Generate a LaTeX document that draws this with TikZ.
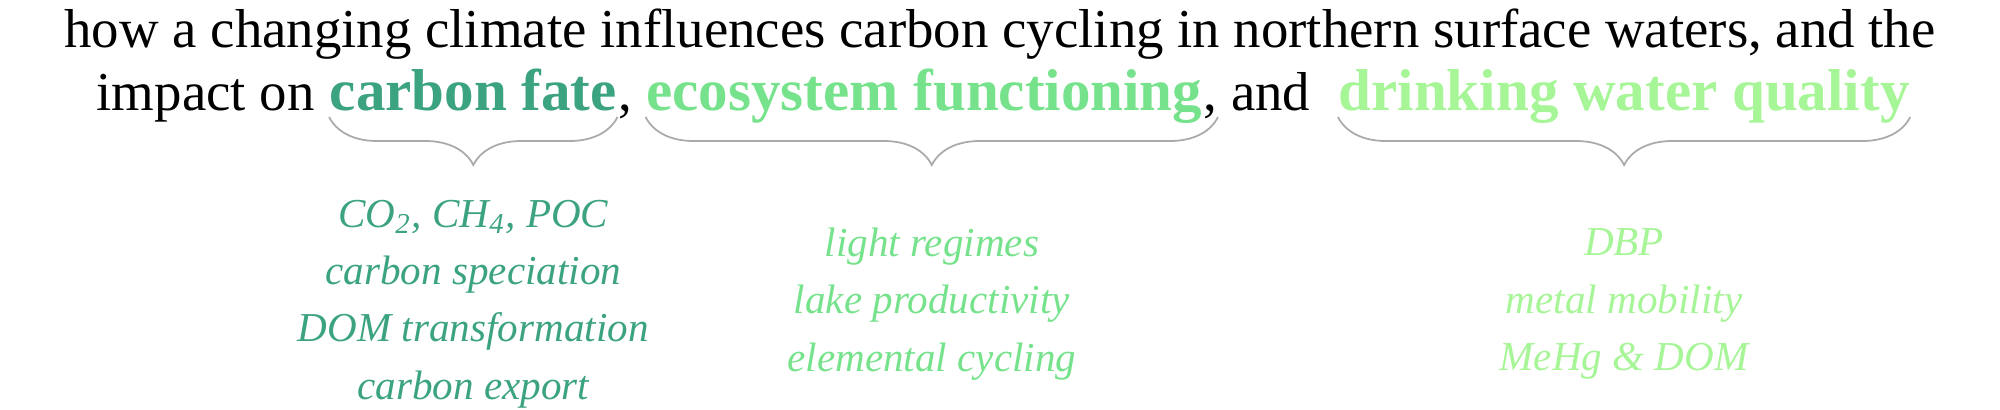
\documentclass[tikz,border=0pt]{standalone}
\usepackage{fontspec}
\setmainfont{Liberation Serif}
\definecolor{fategreen}{RGB}{59, 163, 127}
\definecolor{ecogreen}{RGB}{118, 226, 140}
\definecolor{watergreen}{RGB}{166, 245, 150}
\definecolor{bracegray}{RGB}{170, 170, 170}
\usetikzlibrary{positioning, calc, decorations.pathreplacing}

\begin{document}
\begin{tikzpicture}[
  line/.style={inner sep=0pt, font=\fontsize{15.6}{18}\selectfont},
  word/.style={inner sep=0pt, font=\fontsize{16.8}{19}\selectfont\bfseries},
  curly/.style={draw=bracegray, line width=0.5pt, decorate, decoration={brace, mirror, amplitude=0.48cm}},
  items/.style={inner sep=0pt, align=center, font=\fontsize{11.7}{16.3}\selectfont\itshape}
]
  \useasboundingbox (0,0) rectangle (20,-4.09);
  \node[line, anchor=base] (first) at (10,-0.47) {how a changing climate influences carbon cycling in northern surface waters, and the};
  \node[line, anchor=base west] (impact) at (0.96,-1.10) {impact on};
  \node[word, text=fategreen, right=0.14cm of impact.base east, anchor=base west] (fate) {carbon fate};
  \node[line, right=0pt of fate.base east, anchor=base west] (comma1) {,};
  \node[word, text=ecogreen, right=0.13cm of comma1.base east, anchor=base west] (eco) {ecosystem functioning};
  \node[line, right=0pt of eco.base east, anchor=base west] (comma2) {, and};
  \node[word, text=watergreen, right=0.27cm of comma2.base east, anchor=base west] (water) {drinking water quality};

  \draw[curly] ($(fate.base west)+(0,-0.07)$) -- ($(fate.base east)+(0,-0.07)$);
  \draw[curly] ($(eco.base west)+(0,-0.07)$) -- ($(eco.base east)+(0.15,-0.07)$);
  \draw[curly] ($(water.base west)+(0,-0.07)$) -- ($(water.base east)+(0,-0.07)$);
  \coordinate (fatetip) at ($(fate.base)+(0,-0.56)$);
  \coordinate (ecotip) at ($(eco.base)+(0.075,-0.56)$);
  \coordinate (watertip) at ($(water.base)+(0,-0.56)$);

  \node[items, text=fategreen, below=1.38cm of fatetip, anchor=center] (fateitems) {
    CO\textsubscript{2}, CH\textsubscript{4}, POC\\
    carbon speciation\\
    DOM transformation\\
    carbon export
  };
  \node[items, text=ecogreen, below=1.38cm of ecotip, anchor=center] (ecoitems) {
    light regimes\\
    lake productivity\\
    elemental cycling
  };
  \node[items, text=watergreen, below=1.38cm of watertip, anchor=center] (wateritems) {
    DBP\\
    metal mobility\\
    MeHg \& DOM
  };
\end{tikzpicture}
\end{document}
